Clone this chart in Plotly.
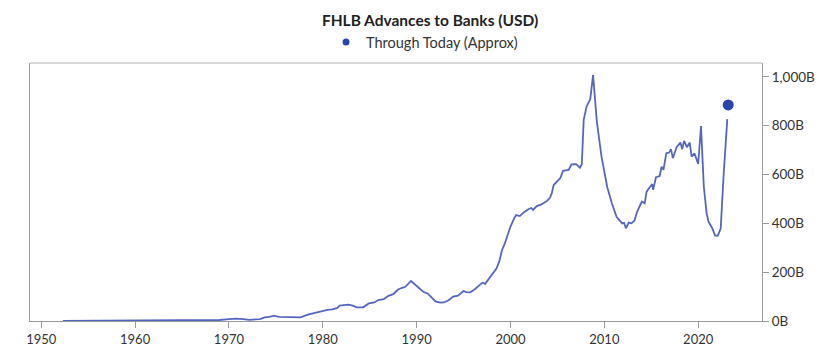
import plotly.graph_objects as go

# Time (decimal year) and FHLB advances (billions USD)
years = [1952.3, 1954, 1956, 1958, 1960, 1962, 1964, 1966, 1967, 1968, 1969, 1970, 1970.8, 1971.5, 1972.2,
         1973.3, 1973.8, 1974.3, 1974.8, 1975.3, 1976, 1977, 1977.6, 1978.5, 1979, 1979.5, 1980, 1980.5,
         1981, 1981.5, 1981.8, 1982.3, 1982.7, 1983.2, 1983.6, 1984.3, 1984.9, 1985.5, 1985.9, 1986.5,
         1987, 1987.5, 1988, 1988.3, 1988.8, 1989.4, 1989.8, 1990.3, 1990.7, 1991.2, 1991.6, 1992,
         1992.5, 1992.9, 1993.4, 1993.9, 1994.4, 1994.7, 1995, 1995.3, 1995.7, 1996.2, 1996.6, 1997,
         1997.3, 1997.7, 1998.2, 1998.5, 1998.8, 1999.1, 1999.4, 1999.7, 2000.0, 2000.4, 2000.6, 2001.0,
         2001.4, 2001.9, 2002.2, 2002.4, 2002.8, 2003.3, 2003.9, 2004.2, 2004.4, 2004.6, 2004.9, 2005.3,
         2005.6, 2006.2, 2006.5, 2007.0, 2007.4, 2007.6, 2007.8, 2008.1, 2008.5, 2008.8, 2009.2, 2009.7,
         2010.3, 2010.8, 2011.3, 2011.9, 2012.1, 2012.3, 2012.6, 2012.9, 2013.2, 2013.5, 2014.0, 2014.3,
         2014.5, 2015.1, 2015.2, 2015.5, 2015.9, 2016.1, 2016.3, 2016.6, 2016.9, 2017.1, 2017.3, 2017.7,
         2018.1, 2018.3, 2018.5, 2018.8, 2019.1, 2019.3, 2019.6, 2020.0, 2020.3, 2020.6, 2020.9, 2021.1,
         2021.5, 2021.8, 2022.1, 2022.4, 2022.7, 2023.1]
advances = [0.5, 0.8, 1.2, 1.3, 1.8, 2.5, 4, 5, 5, 3, 4, 8, 10, 8, 5,
            8, 15, 17, 22, 17, 17, 14, 15, 27, 32, 35, 42, 46,
            48, 53, 63, 65, 67, 63, 56, 56, 72, 76, 86, 90,
            103, 110, 128, 134, 140, 164, 150, 133, 120, 112, 95, 80,
            75, 76, 85, 100, 104, 113, 123, 118, 117, 130, 142, 157,
            152, 172, 200, 215, 243, 291, 318, 355, 387, 421, 434, 430,
            445, 458, 463, 455, 471, 478, 492, 505, 523, 557, 571, 585,
            615, 619, 642, 643, 628, 642, 824, 878, 909, 1008, 817, 673,
            550, 482, 427, 400, 402, 380, 403, 400, 411, 448, 489, 482,
            530, 561, 537, 589, 594, 632, 619, 687, 690, 704, 667, 712,
            731, 704, 738, 712, 731, 673, 687, 643, 799, 550, 441, 407,
            380, 350, 350, 380, 591, 827]

today_year = [2023.2]
today_value = [885]
legend_name = "Through Today (Approx)"

x_ticks = [1950, 1960, 1970, 1980, 1990, 2000, 2010, 2020]
y_ticks = [0, 200, 400, 600, 800, 1000]
y_labels = ["0B", "200B", "400B", "600B", "800B", "1,000B"]

FONT = "Lato, 'Open Sans', sans-serif"
DOT = "#2a45a8"

fig = go.Figure()
fig.add_trace(go.Scatter(x=years, y=advances, mode="lines",
                         line=dict(color="#5566c0", width=1.8),
                         showlegend=False, hoverinfo="skip"))
fig.add_trace(go.Scatter(x=today_year, y=today_value, mode="markers",
                         marker=dict(color=DOT, size=11),
                         showlegend=False, name=legend_name))
# legend entry with smaller symbol
fig.add_trace(go.Scatter(x=[None], y=[None], mode="markers",
                         marker=dict(color=DOT, size=7), name=legend_name))

fig.update_layout(
    width=840, height=360,
    margin=dict(l=30, r=78, t=63, b=39),
    paper_bgcolor="white", plot_bgcolor="white",
    font=dict(family=FONT, size=13, color="#333"),
    title=dict(text="<b>FHLB Advances to Banks (USD)</b>", x=0.512, xanchor="center",
               y=0.942, yanchor="middle", font=dict(size=15.5, color="#222")),
    legend=dict(orientation="h", x=0.539, xanchor="center", y=1.081, yanchor="middle",
                font=dict(size=14.5, color="#333"), bgcolor="rgba(0,0,0,0)",
                itemwidth=30),
    xaxis=dict(range=[1948.8, 2026.8], tickvals=x_ticks, showgrid=False, zeroline=False,
               showline=True, linecolor="#999", linewidth=1, ticks="outside", ticklen=6,
               tickcolor="#999", tickfont=dict(size=13, color="#333")),
    yaxis=dict(range=[0, 1057], side="right", tickvals=y_ticks, ticktext=y_labels,
               showgrid=False, zeroline=False, showline=True, linecolor="#999", linewidth=1,
               mirror=True, ticks="outside", ticklen=6, tickcolor="#999",
               tickfont=dict(size=13.5, color="#333")),
    shapes=[dict(type="line", xref="paper", yref="paper", x0=0, x1=1, y0=1, y1=1,
                 line=dict(color="#cccccc", width=1.5))],
)

fig.write_html("out.html")
